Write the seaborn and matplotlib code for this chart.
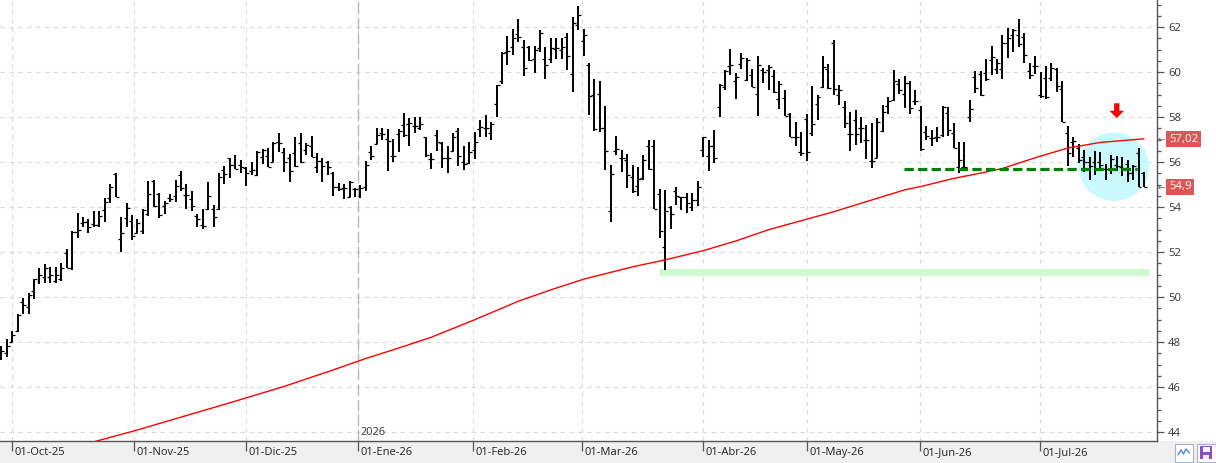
import matplotlib
matplotlib.use("Agg")
import numpy as np
import pandas as pd
import matplotlib.pyplot as plt
import seaborn as sns
import matplotlib.transforms as mtransforms
from matplotlib.patches import Ellipse, Polygon, Rectangle
from matplotlib.ticker import MultipleLocator

# ---------------- data ----------------
opens = [47.6, 47.5, 48.0, 48.5, 49.8, 49.55, 50.27, 50.73, 50.9, 50.9,
         50.7, 50.8, 51.95, 51.3, 52.9, 53.3, 53.33, 53.26, 53.2, 53.88,
         54.41, 55.47, 52.59, 53.53, 53.4, 52.85, 52.95, 53.69, 55.17, 54.6,
         54.06, 54.4, 54.49, 55.42, 54.53, 54.37, 53.6, 53.2, 53.9, 53.9,
         53.91, 55.64, 56.18, 55.88, 55.87, 55.73, 55.61, 55.44, 56.25, 56.28,
         56.03, 56.92, 56.47, 56.2, 56.41, 56.86, 56.53, 56.73, 55.78, 56.06,
         56.01, 55.5, 54.92, 54.87, 54.47, 54.81, 54.48, 54.89, 56.47, 56.81,
         57.29, 57.05, 56.27, 57.24, 57.64, 57.7, 57.6, 57.51, 57.1, 56.16,
         57.21, 56.87, 56.19, 56.52, 57.4, 56.0, 55.96, 56.55, 57.48, 57.54,
         57.29, 58.58, 59.63, 60.92, 61.1, 61.69, 61.14, 61.14, 60.58, 61.07,
         60.58, 60.58, 61.02, 60.99, 61.56, 59.91, 62.1, 61.41, 60.3, 59.0,
         59.02, 57.53, 53.84, 56.5, 56.21, 56.09, 55.33, 54.95, 55.29, 56.73,
         56.74, 54.57, 52.22, 54.03, 54.73, 54.44, 54.44, 54.03, 54.33, 56.55,
         56.28, 56.74, 58.44, 59.33, 60.28, 59.59, 60.36, 59.65, 59.87, 59.02,
         60.1, 60.1, 59.85, 58.8, 58.84, 58.15, 57.14, 56.44, 57.9, 57.3,
         58.58, 59.33, 60.13, 61.3, 59.0, 58.44, 57.24, 57.88, 57.5, 56.99,
         56.07, 56.2, 57.41, 58.5, 58.75, 59.48, 59.04, 59.54, 58.73, 58.3,
         57.36, 57.07, 57.14, 57.21, 58.2, 57.3, 55.78, 55.78, 58.0, 59.8,
         59.91, 59.96, 60.55, 60.13, 60.13, 61.29, 61.66, 61.66, 61.56, 60.07,
         60.28, 58.99, 59.73, 59.73, 60.15, 59.26, 57.3, 56.9, 56.62, 56.25,
         55.99, 55.99, 55.99, 55.69, 55.69, 55.88, 55.78, 55.93, 55.51, 56.43,
         55.54]
highs = [47.84, 48.13, 48.52, 49.26, 49.96, 50.18, 50.83, 51.32, 51.48, 51.35,
         51.35, 51.5, 52.16, 52.95, 53.73, 53.58, 53.47, 53.85, 53.85, 54.39,
         55.02, 55.54, 53.57, 54.18, 53.67, 53.48, 53.91, 55.16, 55.21, 54.64,
         54.27, 54.61, 55.2, 55.59, 55.02, 54.74, 53.7, 53.93, 55.13, 54.09,
         55.51, 55.82, 56.21, 56.33, 56.1, 55.79, 56.03, 56.49, 56.59, 56.65,
         56.89, 57.32, 56.65, 56.36, 57.1, 57.3, 56.84, 57.17, 56.4, 56.18,
         56.06, 55.56, 55.07, 55.02, 55.16, 54.86, 54.98, 56.06, 56.71, 57.51,
         57.5, 57.47, 57.02, 57.47, 58.18, 57.97, 58.01, 58.01, 57.14, 56.4,
         57.44, 56.92, 56.74, 57.32, 57.5, 56.74, 56.92, 57.35, 57.87, 58.1,
         57.78, 59.44, 60.9, 61.61, 61.91, 62.36, 61.44, 61.17, 61.17, 61.88,
         61.14, 61.54, 61.54, 61.5, 61.76, 62.44, 62.95, 61.91, 60.4, 59.7,
         59.63, 58.5, 55.88, 57.17, 56.55, 56.37, 55.87, 55.81, 56.33, 57.0,
         57.0, 54.81, 54.77, 54.06, 54.89, 54.47, 54.65, 54.65, 55.17, 57.14,
         57.0, 57.44, 59.47, 60.1, 61.02, 59.97, 60.84, 60.62, 60.13, 60.7,
         60.18, 60.33, 60.1, 59.61, 59.21, 58.18, 57.79, 57.36, 58.13, 59.39,
         58.99, 60.73, 60.37, 61.44, 59.44, 58.74, 58.25, 58.3, 57.99, 57.66,
         57.73, 57.96, 58.55, 58.89, 60.1, 59.69, 59.84, 59.59, 59.21, 58.5,
         57.61, 57.44, 57.56, 58.5, 58.44, 57.76, 56.92, 56.89, 58.77, 60.06,
         60.06, 60.58, 61.17, 60.58, 61.66, 61.96, 61.91, 62.36, 61.73, 60.4,
         60.7, 60.03, 60.28, 60.4, 60.18, 59.59, 57.61, 57.1, 56.8, 56.55,
         56.25, 56.5, 56.47, 55.91, 56.33, 56.28, 56.22, 56.1, 55.88, 56.65,
         55.56]
lows = [47.19, 47.36, 47.99, 48.44, 49.24, 49.24, 49.91, 50.59, 50.65, 50.62,
        50.62, 50.71, 51.29, 51.2, 52.64, 53.14, 52.84, 53.14, 53.1, 53.33,
        54.2, 54.44, 52.0, 53.11, 52.55, 52.84, 52.79, 53.59, 54.01, 53.5,
        53.69, 54.25, 54.25, 54.74, 53.91, 53.85, 53.14, 53.02, 53.88, 53.14,
        53.88, 55.05, 55.29, 55.69, 55.51, 54.93, 55.42, 55.38, 55.91, 55.78,
        56.01, 56.47, 55.56, 55.1, 55.81, 55.96, 56.3, 56.22, 55.51, 55.11,
        55.44, 54.52, 54.74, 54.36, 54.44, 54.47, 54.43, 54.7, 56.12, 56.8,
        56.98, 55.63, 56.03, 56.47, 57.14, 56.74, 57.32, 57.44, 56.25, 55.72,
        56.52, 55.76, 55.54, 56.47, 55.85, 55.67, 55.93, 56.16, 57.11, 57.1,
        56.98, 58.0, 59.47, 60.3, 60.77, 61.33, 59.85, 60.52, 59.96, 60.89,
        59.69, 60.4, 60.61, 60.61, 60.1, 59.14, 61.88, 60.7, 58.1, 57.41,
        57.36, 55.66, 53.36, 56.3, 55.57, 54.87, 54.65, 54.52, 55.21, 55.66,
        53.91, 52.64, 51.19, 53.05, 54.1, 53.88, 53.76, 53.85, 54.07, 56.22,
        55.59, 55.96, 58.03, 59.19, 59.88, 58.81, 60.15, 59.59, 59.33, 58.07,
        59.51, 59.21, 59.07, 58.37, 58.07, 57.1, 56.73, 56.28, 56.07, 57.17,
        57.88, 59.29, 59.24, 58.99, 58.55, 57.54, 56.5, 56.77, 56.84, 56.13,
        55.73, 56.18, 57.36, 58.15, 58.73, 59.02, 58.4, 58.13, 58.55, 56.5,
        56.99, 56.73, 56.92, 57.11, 57.17, 56.65, 55.54, 55.73, 57.81, 59.07,
        58.95, 59.63, 59.88, 59.91, 59.69, 60.62, 60.92, 61.11, 60.43, 59.69,
        59.93, 58.87, 58.8, 59.59, 59.14, 57.78, 55.85, 56.25, 55.96, 55.56,
        55.19, 55.44, 55.63, 55.21, 55.48, 55.63, 55.39, 55.14, 55.19, 54.89,
        54.89]
closes = [47.6, 47.84, 48.3, 49.2, 49.65, 50.1, 50.8, 51.0, 51.3, 51.0,
          51.0, 51.3, 51.3, 52.9, 53.0, 53.35, 53.1, 53.23, 53.62, 54.24,
          54.92, 54.44, 52.84, 53.96, 52.7, 53.3, 53.87, 54.58, 54.04, 53.66,
          54.18, 54.37, 54.93, 54.84, 54.56, 54.06, 53.49, 53.15, 54.5, 53.57,
          55.33, 55.47, 55.88, 55.7, 55.8, 55.51, 55.64, 56.46, 56.53, 55.81,
          56.86, 56.84, 56.01, 55.59, 55.84, 56.0, 56.75, 56.22, 56.07, 55.82,
          55.78, 54.92, 54.8, 54.84, 55.13, 54.8, 54.84, 55.87, 56.27, 57.23,
          57.27, 56.95, 56.27, 57.38, 57.2, 57.75, 57.6, 57.7, 56.31, 56.13,
          56.92, 56.21, 56.18, 57.14, 56.28, 55.94, 56.47, 56.92, 57.58, 57.51,
          57.7, 59.44, 60.87, 60.95, 61.51, 61.56, 60.2, 60.55, 61.0, 61.73,
          60.31, 61.07, 61.07, 61.14, 60.7, 62.18, 62.55, 61.66, 58.96, 57.47,
          57.53, 56.5, 55.48, 56.59, 56.18, 55.44, 54.74, 55.24, 56.1, 55.69,
          53.94, 52.96, 53.84, 53.69, 54.52, 54.44, 54.18, 54.33, 54.89, 57.11,
          56.73, 56.18, 59.44, 60.07, 60.33, 59.78, 60.62, 60.55, 59.33, 60.3,
          60.0, 60.25, 59.1, 59.47, 58.07, 57.1, 57.11, 56.43, 56.46, 57.7,
          58.9, 60.22, 59.29, 59.25, 59.21, 57.76, 57.26, 57.24, 57.51, 56.99,
          56.06, 57.81, 58.25, 58.74, 59.63, 59.19, 59.54, 58.4, 58.73, 56.6,
          57.17, 57.07, 57.11, 58.44, 57.44, 56.65, 56.1, 55.78, 58.36, 59.29,
          58.98, 59.69, 60.67, 60.4, 61.29, 61.51, 61.88, 61.26, 60.77, 59.88,
          60.28, 58.95, 58.89, 60.18, 59.39, 57.81, 56.4, 56.95, 56.1, 56.03,
          55.84, 55.69, 55.88, 55.69, 56.13, 55.84, 55.73, 55.51, 55.84, 54.92,
          54.9]

# moving average (at sample bars)
ma_bar = [0, 18, 25, 33, 43, 52, 61, 67, 73, 79, 87, 95, 101, 107, 116, 122,
          129, 135, 141, 147, 153, 159, 166, 169, 175, 178, 184, 190, 196, 202, 210]
ma_val = [42.42, 43.64, 44.1, 44.67, 45.38, 46.04, 46.77, 47.28, 47.74, 48.22,
          49.0, 49.82, 50.33, 50.8, 51.35, 51.66, 52.07, 52.5, 53.0, 53.4,
          53.8, 54.25, 54.77, 54.92, 55.28, 55.42, 55.72, 56.2, 56.63, 56.88, 57.04]

month_labels = ["01-Oct-25", "01-Nov-25", "01-Dic-25", "01-Ene-26", "01-Feb-26",
                "01-Mar-26", "01-Abr-26", "01-May-26", "01-Jun-26", "01-Jul-26"]
month_pos = [2.0, 24.43, 45.02, 65.61, 86.75, 106.78, 129.03, 148.14, 168.92, 190.97]
year_label = "2026"
year_pos = 65.61

support_level = 55.69
support_span = (165.9, 208.8)
low_level = 51.11
low_span = (120.9, 211.0)
last_ma = "57,02"
last_ma_val = 57.02
last_price = "54,9"
last_price_val = 54.9

# ---------------- style ----------------
sns.set_style("white")
plt.rcParams['font.family'] = ['Open Sans', 'DejaVu Sans']

W, H = 1216, 463
fig = plt.figure(figsize=(W / 100, H / 100), dpi=100)
fig.patch.set_facecolor("white")
ax = fig.add_axes([0, 22 / H, 1157 / W, 441 / H])
ax.set_facecolor("white")

# bottom strip
fig.add_artist(Rectangle((0, 0), 1, 22 / H, transform=fig.transFigure,
                         fc="#f0f0f0", ec="none", zorder=-1))

ax.set_xlim(-0.26, 212.4)
ax.set_ylim(43.61, 63.21)

# grid
ax.yaxis.set_major_locator(MultipleLocator(2))
ax.yaxis.set_minor_locator(MultipleLocator(0.5))
ax.set_xticks(month_pos)
ax.set_xticklabels(month_labels)
ax.grid(True, which="major", color="#dadada", linestyle=(0, (4, 4)), linewidth=0.8, zorder=0)
ax.set_axisbelow(True)
ax.axvline(year_pos, color="#b8b8b8", linestyle=(0, (8, 3)), linewidth=1.0, zorder=0.6)
ax.text(year_pos + 0.35, 44.0, year_label, fontsize=7.9, color="#333333",
        ha="left", va="center", zorder=1)

# highlight circle
ax.add_patch(Ellipse((204.5, 55.8), 13.0, 3.04, fc="#c9f9fd", ec="none", zorder=1))

# low band
ax.plot(list(low_span), [low_level, low_level], color="#ccfccc", lw=5.0,
        solid_capstyle="butt", zorder=2)

# OHLC bars
idx = np.arange(len(opens))
df = pd.DataFrame({"i": idx, "o": opens, "h": highs, "l": lows, "c": closes})
ax.vlines(df["i"], df["l"], df["h"], color="black", lw=1.4, zorder=3)
ax.hlines(df["o"], df["i"] - 0.55, df["i"], color="black", lw=0.9, zorder=3)
ax.hlines(df["c"], df["i"], df["i"] + 0.55, color="black", lw=0.9, zorder=3)

# moving average
sns.lineplot(x=ma_bar, y=ma_val, color="#ff0000", lw=1.0, ax=ax, zorder=4)

# support dashed line
ax.plot(list(support_span), [support_level, support_level], color="#008000", lw=2.3,
        linestyle=(0, (2.9, 1.35)), zorder=5)

# red arrow
cx = 205.0
arrow = Polygon([(cx - 0.49, 58.62), (cx + 0.49, 58.62), (cx + 0.49, 58.29),
                 (cx + 1.35, 58.29), (cx, 57.96), (cx - 1.35, 58.29), (cx - 0.49, 58.29)],
                closed=True, fc="#ff0000", ec="none", zorder=6)
ax.add_patch(arrow)

# spines & ticks
for s in ["top", "left"]:
    ax.spines[s].set_visible(False)
for s in ["right", "bottom"]:
    ax.spines[s].set_visible(True)
    ax.spines[s].set_color("#555555")
    ax.spines[s].set_linewidth(1.0)
ax.yaxis.tick_right()
ax.tick_params(axis="y", which="major", direction="out", length=5, width=0.9,
               color="#555555", pad=3, labelsize=8.1, labelcolor="#333333", right=True, left=False)
ax.tick_params(axis="y", which="minor", direction="out", length=3, width=0.9,
               color="#555555", right=True, left=False)
ax.tick_params(axis="x", which="major", direction="out", length=7, width=0.9,
               color="#555555", pad=-2.5, labelsize=8.0, labelcolor="#222222", bottom=True)
ax.set_yticks(np.arange(44, 63, 2))
ax.set_yticklabels([str(v) for v in range(44, 63, 2)])
ax.set_ylim(43.61, 63.21)
off = mtransforms.ScaledTranslation(2 / 100, 0, fig.dpi_scale_trans)
for lbl in ax.get_xticklabels():
    lbl.set_horizontalalignment("left")
    lbl.set_transform(lbl.get_transform() + off)
ax.set_xlabel("")
ax.set_ylabel("")

# price labels on the right
trans = mtransforms.blended_transform_factory(ax.transAxes, ax.transData)
for txt, val in [(last_ma, last_ma_val), (last_price, last_price_val)]:
    ax.text(1.0, val, txt, transform=trans + mtransforms.ScaledTranslation(12 / 100, 0, fig.dpi_scale_trans),
            ha="left", va="center", fontsize=8.2, color="white", clip_on=False, zorder=10,
            bbox=dict(boxstyle="square,pad=0.22", fc="#e05656", ec="none"))
    ax.text(1.0, val, "←", transform=trans + mtransforms.ScaledTranslation(1 / 100, 0, fig.dpi_scale_trans),
            ha="left", va="center", fontsize=6.5, color="#666666", clip_on=False, zorder=10,
            family=["DejaVu Sans"])

# buttons at bottom-right
def figrect(x0, y0, x1, y1, **kw):
    fig.add_artist(Rectangle((x0 / W, 1 - y1 / H), (x1 - x0) / W, (y1 - y0) / H,
                             transform=fig.transFigure, **kw))

figrect(1175, 443.5, 1192.5, 461.5, fc="white", ec="#a9b4c8", lw=0.8, zorder=5)
zx = np.array([1178, 1181, 1183.5, 1186, 1189.5]) / W
zy = 1 - np.array([455, 450, 454, 449, 453]) / H
fig.add_artist(plt.Line2D(zx, zy, transform=fig.transFigure, color="#4f86d6", lw=1.0, zorder=6))
figrect(1196.5, 443.5, 1216, 461.5, fc="white", ec="#a9b4c8", lw=0.8, zorder=5)
figrect(1200, 446, 1212, 459, fc="#8a4fc8", ec="none", zorder=6)
figrect(1202.5, 447, 1209.5, 451.5, fc="white", ec="none", zorder=7)
figrect(1203, 454.5, 1209, 459, fc="#f4eefb", ec="none", zorder=7)

fig.savefig("out.png", dpi=100)
